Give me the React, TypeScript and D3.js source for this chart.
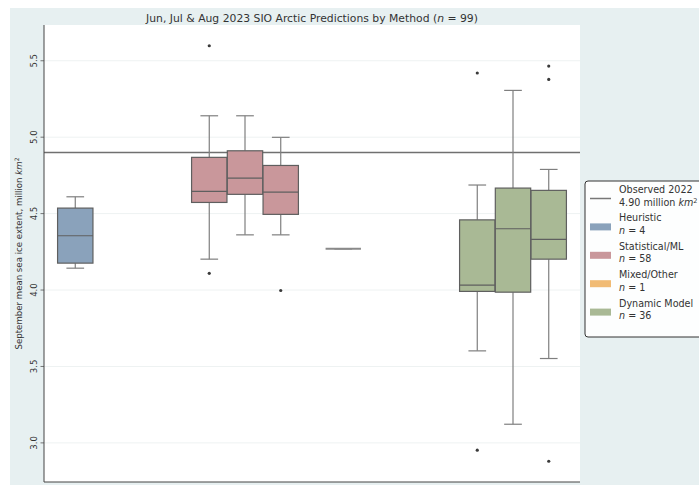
import React from 'react';
import * as d3 from 'd3';

const methods = ['Heuristic', 'Statistical/ML', 'Mixed/Other', 'Dynamic Model'];
const months = ['Jun', 'Jul', 'Aug'];
const counts = [4, 58, 1, 36];
const colors = ['#8aa2bb', '#c9979b', '#f1bb74', '#a9b995'];

// Box statistics (million km^2)
const boxMethod = ['Heuristic', 'Statistical/ML', 'Statistical/ML', 'Statistical/ML', 'Mixed/Other', 'Dynamic Model', 'Dynamic Model', 'Dynamic Model'];
const boxMonth = ['Jun', 'Jun', 'Jul', 'Aug', 'Jun', 'Jun', 'Jul', 'Aug'];
const whiskLo = [4.143, 4.202, 4.361, 4.361, 4.27, 3.602, 3.122, 3.552];
const q1 = [4.176, 4.573, 4.626, 4.495, 4.27, 3.991, 3.986, 4.202];
const median = [4.355, 4.645, 4.732, 4.641, 4.27, 4.032, 4.401, 4.331];
const q3 = [4.536, 4.868, 4.911, 4.815, 4.27, 4.459, 4.667, 4.652];
const whiskHi = [4.61, 5.14, 5.14, 4.999, 4.27, 4.687, 5.306, 4.789];
const outliers = [[], [5.598, 4.109], [], [3.997], [], [5.42, 2.952], [], [5.465, 5.378, 2.88]];

const observed = 4.9;
const yTicks = [3.0, 3.5, 4.0, 4.5, 5.0, 5.5];

const W = 699, H = 485;
const plot = { left: 44, right: 580, top: 25, bottom: 482 };
const font = 'DejaVu Sans, sans-serif';

export default function App() {
  const x = d3.scaleBand().domain(methods).range([plot.left, plot.right]).padding(0);
  const hue = d3.scaleBand().domain(months).range([-x.bandwidth() * 0.4, x.bandwidth() * 0.4]).padding(0);
  const allVals = [...whiskLo, ...whiskHi, ...outliers.flat()];
  const mn = d3.min(allVals) as number, mx = d3.max(allVals) as number;
  const pad = (mx - mn) * 0.05;
  const y = d3.scaleLinear().domain([mn - pad, mx + pad]).range([plot.bottom, plot.top]);
  const bw = hue.bandwidth() * 0.99;
  const edge = '#5f5f5f';
  const whisk = '#7f7f7f';

  const legendX = 585, legendY = 181;
  const entries = [
    { label: 'Observed 2022', sub: '4.90 million ', line: true, color: '#777' },
    ...methods.map((m, i) => ({ label: m, sub: String(counts[i]), line: false, color: colors[i] })),
  ];

  return (
    <svg width={W} height={H} style={{ position: 'absolute', left: 0, top: 0 }} fontFamily={font}>
      <rect x={10} y={8} width={W - 10} height={H - 8} fill="#e7f0f1" />
      <rect x={plot.left} y={plot.top} width={plot.right - plot.left} height={plot.bottom - plot.top} fill="#ffffff" />
      {yTicks.map(t => (
        <g key={t}>
          <line x1={plot.left} x2={plot.right} y1={y(t)} y2={y(t)} stroke="#eef2f2" strokeWidth={1} />
          <line x1={plot.left - 3.5} x2={plot.left} y1={y(t)} y2={y(t)} stroke="#555" strokeWidth={0.8} />
          <text transform={`translate(${plot.left - 7},${y(t)}) rotate(-90)`} textAnchor="middle" fontSize={8.5} fill="#333">{t.toFixed(1)}</text>
        </g>
      ))}
      <text transform={`translate(22,${(plot.top + plot.bottom) / 2}) rotate(-90)`} textAnchor="middle" fontSize={8.6} fill="#333">
        September mean sea ice extent, million <tspan fontStyle="italic">km</tspan><tspan dy={-3} fontSize={6}>2</tspan>
      </text>
      <line x1={plot.left} x2={plot.right} y1={y(observed)} y2={y(observed)} stroke="#707070" strokeWidth={1.5} />
      {boxMethod.map((m, i) => {
        const cx = (x(m) as number) + x.bandwidth() / 2 + (hue(boxMonth[i]) as number) + hue.bandwidth() / 2;
        const fill = colors[methods.indexOf(m)];
        return (
          <g key={i}>
            <line x1={cx} x2={cx} y1={y(whiskHi[i])} y2={y(q3[i])} stroke={whisk} strokeWidth={1.2} />
            <line x1={cx} x2={cx} y1={y(q1[i])} y2={y(whiskLo[i])} stroke={whisk} strokeWidth={1.2} />
            <line x1={cx - bw / 4} x2={cx + bw / 4} y1={y(whiskHi[i])} y2={y(whiskHi[i])} stroke={whisk} strokeWidth={1.2} />
            <line x1={cx - bw / 4} x2={cx + bw / 4} y1={y(whiskLo[i])} y2={y(whiskLo[i])} stroke={whisk} strokeWidth={1.2} />
            {q3[i] > q1[i] ? (
              <rect x={cx - bw / 2} y={y(q3[i])} width={bw} height={y(q1[i]) - y(q3[i])} fill={fill} stroke={edge} strokeWidth={1.2} />
            ) : null}
            <line x1={cx - bw / 2} x2={cx + bw / 2} y1={y(median[i])} y2={y(median[i])} stroke={q3[i] > q1[i] ? edge : '#8a8a8a'} strokeWidth={q3[i] > q1[i] ? 1.2 : 1.8} />
            {outliers[i].map((o, j) => (
              <circle key={j} cx={cx} cy={y(o)} r={1.6} fill="#3a3a3a" />
            ))}
          </g>
        );
      })}
      <line x1={plot.left} x2={plot.left} y1={plot.top} y2={plot.bottom} stroke="#444" strokeWidth={1} />
      <line x1={plot.left} x2={plot.right} y1={plot.bottom} y2={plot.bottom} stroke="#444" strokeWidth={1} />
      <text x={(plot.left + plot.right) / 2} y={22} textAnchor="middle" fontSize={10.8} fill="#333">
        Jun, Jul &amp; Aug 2023 SIO Arctic Predictions by Method (<tspan fontStyle="italic">n</tspan> = 99)
      </text>
      <rect x={legendX} y={legendY} width={140} height={156} rx={3} fill="#fdfefe" stroke="#333" strokeWidth={1} />
      {entries.map((e, i) => {
        const base = 193 + i * 28.4;
        const mid = base + 5.5;
        return (
          <g key={i}>
            {e.line ? (
              <line x1={590} x2={611} y1={mid} y2={mid} stroke={e.color} strokeWidth={1.5} />
            ) : (
              <rect x={590} y={mid - 3.5} width={21} height={7} fill={e.color} />
            )}
            <text x={619} y={base} fontSize={9.6} fill="#333">{e.label}</text>
            {e.line ? (
              <text x={619} y={base + 12.5} fontSize={9.6} fill="#333">{e.sub}<tspan fontStyle="italic">km</tspan><tspan dy={-3} fontSize={6.5}>2</tspan></text>
            ) : (
              <text x={619} y={base + 12.5} fontSize={9.6} fill="#333"><tspan fontStyle="italic">n</tspan> = {e.sub}</text>
            )}
          </g>
        );
      })}
    </svg>
  );
}
